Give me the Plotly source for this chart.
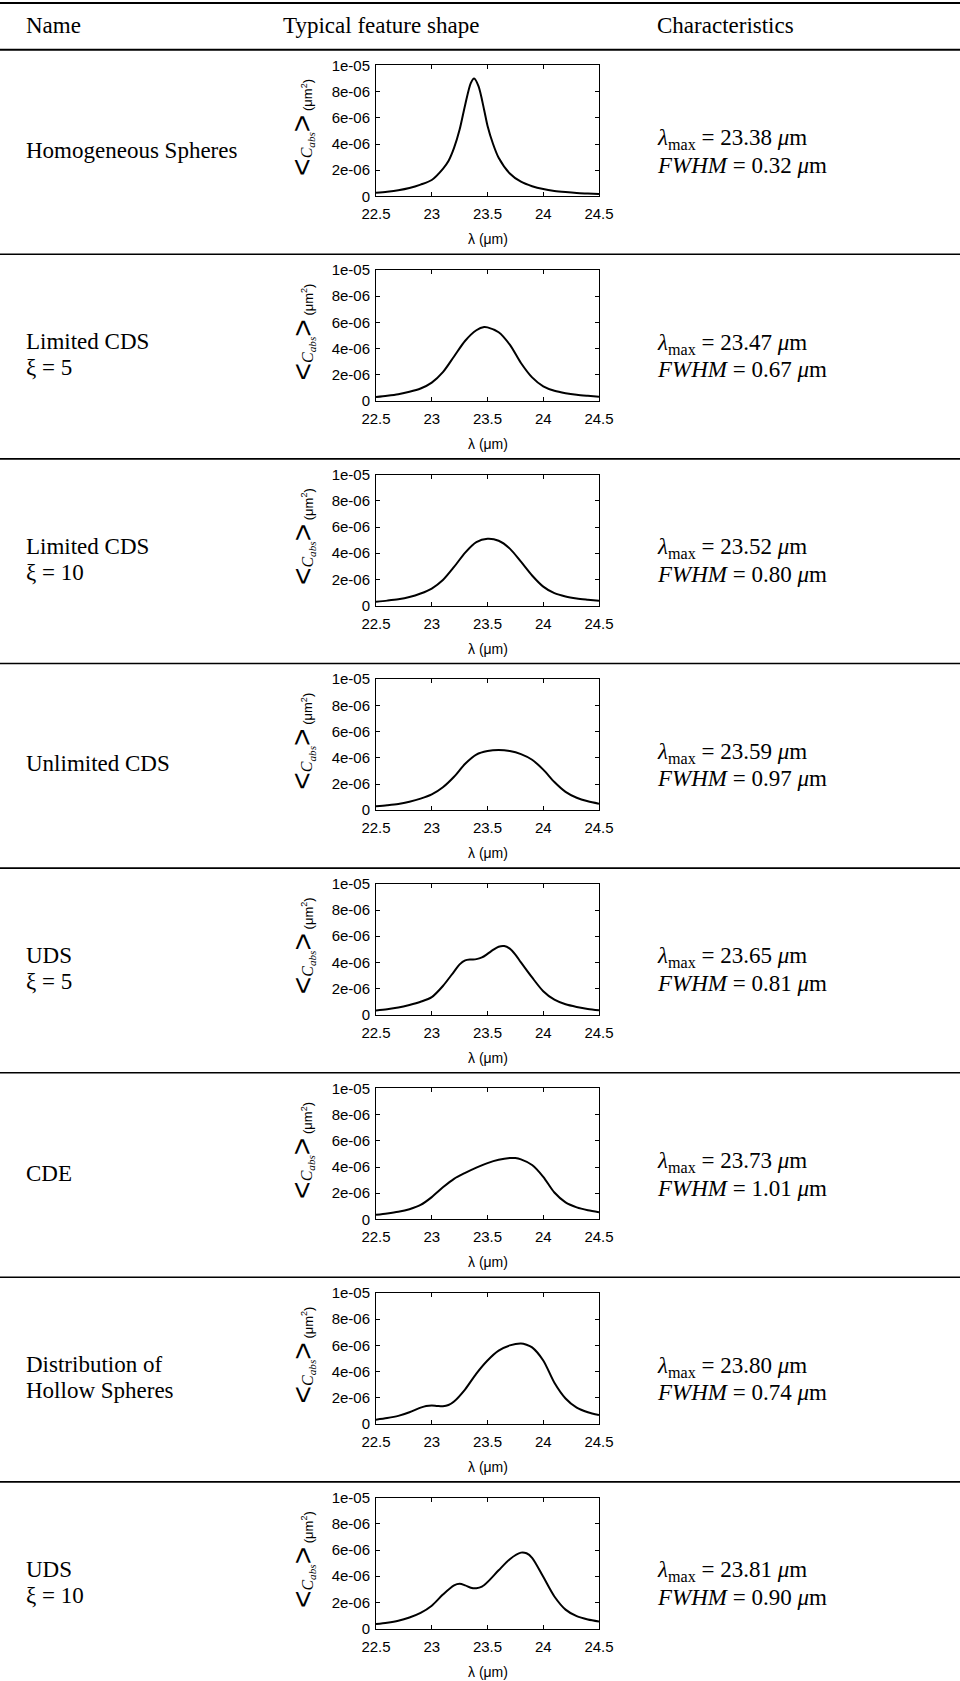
import plotly.graph_objects as go

# ---------------- data ----------------
NAMES = [
    ["Homogeneous Spheres"],
    ["Limited CDS", "ξ = 5"],
    ["Limited CDS", "ξ = 10"],
    ["Unlimited CDS"],
    ["UDS", "ξ = 5"],
    ["CDE"],
    ["Distribution of", "Hollow Spheres"],
    ["UDS", "ξ = 10"],
]
LAMBDA_MAX = ["23.38", "23.47", "23.52", "23.59", "23.65", "23.73", "23.80", "23.81"]
FWHM = ["0.32", "0.67", "0.80", "0.97", "0.81", "1.01", "0.74", "0.90"]

HEADERS = ["Name", "Typical feature shape", "Characteristics"]

X_TICKS = [22.5, 23, 23.5, 24, 24.5]
X_TICK_TEXT = ["22.5", "23", "23.5", "24", "24.5"]
Y_TICKS = [0, 2e-6, 4e-6, 6e-6, 8e-6, 1e-5]
Y_TICK_TEXT = ["0", "2e-06", "4e-06", "6e-06", "8e-06", "1e-05"]

UNIT = 1e-6  # curve values below are in units of 1e-6 um^2

x_homog = [22.5, 22.6, 22.7, 22.8, 22.9, 23.0, 23.1, 23.15, 23.2, 23.25, 23.3, 23.35, 23.38,
           23.42, 23.47, 23.5, 23.55, 23.6, 23.7, 23.8, 23.9, 24.0, 24.1, 24.2, 24.3, 24.4, 24.5]
y_homog = [0.28, 0.36, 0.47, 0.64, 0.90, 1.25, 2.1, 2.7, 3.7, 5.1, 7.0, 8.65, 9.0,
           8.4, 6.6, 5.4, 4.0, 2.95, 1.75, 1.12, 0.78, 0.56, 0.42, 0.33, 0.26, 0.22, 0.18]

x_lcds5 = [22.5, 22.6, 22.7, 22.8, 22.9, 23.0, 23.1, 23.2, 23.3, 23.4, 23.47, 23.5, 23.6,
           23.7, 23.8, 23.9, 24.0, 24.1, 24.2, 24.3, 24.4, 24.5]
y_lcds5 = [0.30, 0.40, 0.52, 0.70, 0.95, 1.40, 2.20, 3.40, 4.60, 5.40, 5.65, 5.62, 5.25,
           4.30, 2.90, 1.80, 1.12, 0.78, 0.60, 0.48, 0.40, 0.33]

x_lcds10 = [22.5, 22.6, 22.7, 22.8, 22.9, 23.0, 23.1, 23.2, 23.3, 23.4, 23.5, 23.6, 23.7,
            23.8, 23.9, 24.0, 24.1, 24.2, 24.3, 24.4, 24.5]
y_lcds10 = [0.30, 0.38, 0.48, 0.65, 0.92, 1.30, 1.95, 2.95, 4.05, 4.85, 5.10, 4.95, 4.35,
            3.35, 2.30, 1.45, 0.95, 0.70, 0.55, 0.45, 0.36]

x_ucds = [22.5, 22.6, 22.7, 22.8, 22.9, 23.0, 23.1, 23.2, 23.3, 23.4, 23.5, 23.6, 23.7,
          23.8, 23.9, 24.0, 24.1, 24.2, 24.3, 24.4, 24.5]
y_ucds = [0.30, 0.38, 0.48, 0.65, 0.88, 1.20, 1.75, 2.55, 3.55, 4.25, 4.52, 4.60, 4.52,
          4.28, 3.85, 3.10, 2.15, 1.40, 0.95, 0.68, 0.50]

x_uds5 = [22.5, 22.6, 22.7, 22.8, 22.9, 23.0, 23.1, 23.2, 23.25, 23.3, 23.35, 23.4, 23.45,
          23.5, 23.55, 23.6, 23.65, 23.7, 23.75, 23.8, 23.9, 24.0, 24.1, 24.2, 24.3, 24.4, 24.5]
y_uds5 = [0.33, 0.42, 0.55, 0.75, 1.00, 1.35, 2.20, 3.30, 3.85, 4.15, 4.22, 4.25, 4.38,
          4.65, 4.95, 5.20, 5.25, 5.05, 4.60, 4.00, 2.85, 1.80, 1.15, 0.80, 0.60, 0.45, 0.35]

x_cde = [22.5, 22.6, 22.7, 22.8, 22.9, 23.0, 23.1, 23.2, 23.3, 23.4, 23.5, 23.6, 23.7,
         23.75, 23.8, 23.9, 24.0, 24.1, 24.2, 24.3, 24.4, 24.5]
y_cde = [0.35, 0.45, 0.58, 0.78, 1.10, 1.70, 2.45, 3.10, 3.55, 3.95, 4.30, 4.55, 4.68,
         4.68, 4.58, 4.15, 3.25, 2.05, 1.30, 0.92, 0.70, 0.55]

x_hollow = [22.5, 22.6, 22.7, 22.8, 22.9, 22.95, 23.0, 23.05, 23.1, 23.15, 23.2, 23.3, 23.4,
            23.5, 23.6, 23.7, 23.8, 23.85, 23.9, 24.0, 24.1, 24.2, 24.3, 24.4, 24.5]
y_hollow = [0.33, 0.45, 0.62, 0.90, 1.25, 1.38, 1.42, 1.38, 1.36, 1.45, 1.72, 2.65, 3.85,
            4.85, 5.60, 6.00, 6.15, 6.05, 5.85, 4.85, 3.15, 1.95, 1.25, 0.90, 0.68]

x_uds10 = [22.5, 22.6, 22.7, 22.8, 22.9, 23.0, 23.1, 23.2, 23.25, 23.3, 23.35, 23.4, 23.45,
           23.5, 23.6, 23.7, 23.8, 23.85, 23.9, 24.0, 24.1, 24.2, 24.3, 24.4, 24.5]
y_uds10 = [0.35, 0.45, 0.60, 0.85, 1.20, 1.75, 2.60, 3.30, 3.42, 3.30, 3.12, 3.08, 3.20,
           3.55, 4.45, 5.30, 5.80, 5.75, 5.40, 3.95, 2.45, 1.45, 0.95, 0.70, 0.55]

SERIES = [(x_homog, y_homog), (x_lcds5, y_lcds5), (x_lcds10, y_lcds10), (x_ucds, y_ucds),
          (x_uds5, y_uds5), (x_cde, y_cde), (x_hollow, y_hollow), (x_uds10, y_uds10)]

# ---------------- layout geometry (pixels) ----------------
W, H = 960, 1681
PLOT_L, PLOT_R = 376, 599
ROW0 = 49.7
ROW_H = 204.6
PLOT_OFF = 15.7
PLOT_H = 131

SERIF = "Liberation Serif, Times New Roman, serif"
SANS = "Liberation Sans, Arial, sans-serif"
TXT = 23


def px(x):
    return x / W


def py(y):
    return 1 - y / H


fig = go.Figure()
annotations = []
shapes = []

# rules
shapes.append(dict(type="line", xref="paper", yref="paper", x0=0, x1=1, y0=py(3), y1=py(3),
                   line=dict(color="black", width=2)))
for r in range(8):
    ys = ROW0 + ROW_H * r
    shapes.append(dict(type="line", xref="paper", yref="paper", x0=0, x1=1, y0=py(ys), y1=py(ys),
                       line=dict(color="black", width=2 if r == 0 else 1.6)))

# header
for text, xh in zip(HEADERS, [24, 281, 655]):
    annotations.append(dict(text=text, x=px(xh), y=py(25), xref="paper", yref="paper",
                            xanchor="left", yanchor="middle", showarrow=False,
                            font=dict(family=SERIF, size=TXT, color="black")))

LINE_GAP = 26
for r in range(8):
    sep = ROW0 + ROW_H * r
    top = sep + PLOT_OFF
    bot = top + PLOT_H
    center = sep + ROW_H / 2
    idx = "" if r == 0 else str(r + 1)
    xs, ys_ = SERIES[r]
    fig.add_trace(go.Scatter(x=xs, y=[v * UNIT for v in ys_], mode="lines",
                             line=dict(color="black", width=2, shape="spline", smoothing=0.8),
                             xaxis="x" + idx, yaxis="y" + idx, showlegend=False,
                             hoverinfo="skip"))
    common = dict(showline=True, linecolor="black", linewidth=1, mirror="ticks",
                  ticks="inside", ticklen=4, tickcolor="black", showgrid=False,
                  zeroline=False, automargin=False,
                  tickfont=dict(family=SANS, size=15, color="black"))
    fig.layout["xaxis" + idx] = dict(domain=[px(PLOT_L), px(PLOT_R)], range=[22.5, 24.5],
                                     tickvals=X_TICKS, ticktext=X_TICK_TEXT,
                                     anchor="y" + idx, ticklabelstandoff=4, **common)
    fig.layout["yaxis" + idx] = dict(domain=[py(bot), py(top)], range=[0, 1e-5],
                                     tickvals=Y_TICKS, ticktext=Y_TICK_TEXT,
                                     anchor="x" + idx, ticklabelstandoff=2, **common)
    # x axis title
    annotations.append(dict(text="λ (μm)", x=px((PLOT_L + PLOT_R) / 2), y=py(bot + 43),
                            xref="paper", yref="paper", xanchor="center", yanchor="middle",
                            showarrow=False, font=dict(family=SANS, size=14, color="black")))
    # y axis title
    ylab = ("<span style='font-size:30px'>&lt;</span>"
            "<span style='font-family:Liberation Serif;font-size:16px'><i>C<sub>abs</sub></i></span>"
            "<span style='font-size:30px'>&gt;</span> (μm<sup>2</sup>)")
    annotations.append(dict(text=ylab, x=px(302), y=py((top + bot) / 2 - 3),
                            xref="paper", yref="paper", xanchor="center", yanchor="middle",
                            textangle=-90, showarrow=False,
                            font=dict(family=SANS, size=13, color="black")))
    # name
    lines = NAMES[r]
    n = len(lines)
    for i, ln in enumerate(lines):
        yc = center - 2 + (i - (n - 1) / 2) * LINE_GAP
        annotations.append(dict(text=ln, x=px(24), y=py(yc), xref="paper", yref="paper",
                                xanchor="left", yanchor="middle", showarrow=False,
                                font=dict(family=SERIF, size=TXT, color="black")))
    # characteristics
    c1 = "<i>λ</i><sub>max</sub> = " + LAMBDA_MAX[r] + " <i>μ</i>m"
    c2 = "<i>FWHM</i> = " + FWHM[r] + " <i>μ</i>m"
    for i, ln in enumerate([c1, c2]):
        yc = center + (i - 0.5) * LINE_GAP
        annotations.append(dict(text=ln, x=px(655), y=py(yc), xref="paper", yref="paper",
                                xanchor="left", yanchor="middle", showarrow=False,
                                font=dict(family=SERIF, size=TXT, color="black")))

fig.update_layout(template="none", width=W, height=H,
                  margin=dict(l=0, r=0, t=0, b=0, pad=0, autoexpand=False),
                  paper_bgcolor="white", plot_bgcolor="white",
                  annotations=annotations, shapes=shapes, showlegend=False)

fig.write_html("out.html", config={"displayModeBar": False},
               post_script="document.body.style.margin='0';document.body.style.padding='0';")
